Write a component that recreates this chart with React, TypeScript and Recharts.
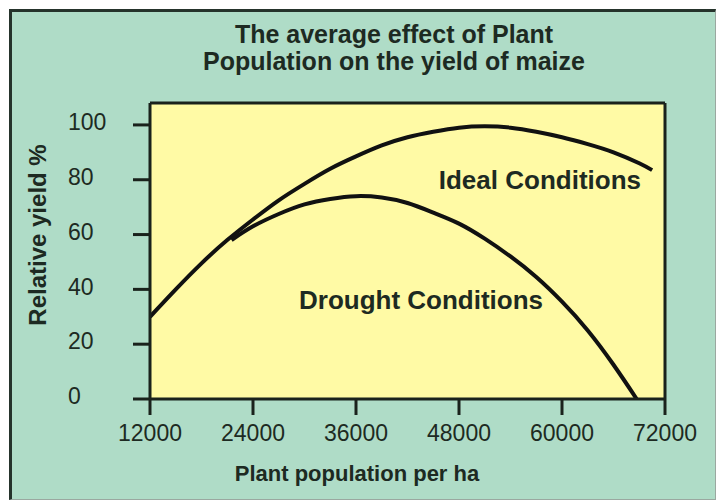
import React from "react";
import { LineChart, Line, XAxis, YAxis, ReferenceLine, CartesianGrid } from "recharts";

const xTicks = [12000, 24000, 36000, 48000, 60000, 72000];
const yTicks = [0, 20, 40, 60, 80, 100];

const idealX = [12000, 15000, 18000, 21000, 24000, 27000, 30000, 33000, 36000, 39000, 42000, 45000, 48000, 51000, 54000, 57000, 60000, 63000, 66000, 69000, 70500];
const idealY = [30, 40, 49.5, 58, 65.5, 72.5, 78.5, 84, 88.5, 92.5, 95.5, 97.5, 99, 99.5, 99, 97.5, 95.5, 93, 90, 86, 83.5];

const droughtX = [21500, 24000, 27000, 30000, 33000, 36000, 39000, 42000, 45000, 48000, 51000, 54000, 57000, 60000, 63000, 66000, 68700];
const droughtY = [58, 63, 67.5, 71, 73, 74, 73.5, 71.5, 68, 64, 58.5, 52, 44.5, 35.5, 25, 12.5, 0];

const ideal = idealX.map((x, i) => ({ x, y: idealY[i] }));
const drought = droughtX.map((x, i) => ({ x, y: droughtY[i] }));

const INK = "#1d2a22";
const FONT = "'Liberation Sans', Arial, sans-serif";

const YTick = (props: any) => {
  const { y, payload } = props;
  return (
    <text x={68} y={y - 3} dy="0.355em" textAnchor="start" fill={INK} fontSize={23} fontFamily={FONT}>
      {payload.value}
    </text>
  );
};

export default function App() {
  return (
    <div style={{ position: "relative", width: 718, height: 500 }}>
      <style>{`body{margin:0;overflow:hidden}`}</style>
      <div
        style={{
          position: "absolute",
          left: 9,
          top: 9,
          width: 703,
          height: 487,
          background: "#afdcc7",
          borderLeft: "3px solid #25332b",
          borderTop: "3px solid #25332b",
          borderRight: "1px solid #9aa8a0",
          borderBottom: "1px solid #9aa8a0",
        }}
      />
      <div style={{ position: "absolute", left: 0, top: 0 }}>
        <LineChart width={718} height={500} margin={{ top: 103, right: 53, bottom: 41, left: 0 }}>
          <CartesianGrid fill="#fffaa5" stroke="none" horizontal={false} vertical={false} />
          <XAxis
            dataKey="x"
            type="number"
            domain={[12000, 72000]}
            ticks={xTicks}
            height={60}
            allowDataOverflow
            axisLine={{ stroke: "#1a221c", strokeWidth: 3 }}
            tickLine={{ stroke: "#1a221c", strokeWidth: 3 }}
            tickSize={16}
            tickMargin={10}
            tick={{ fill: INK, fontSize: 23, fontFamily: FONT }}
          />
          <YAxis
            type="number"
            domain={[0, 108]}
            ticks={yTicks}
            width={150}
            allowDataOverflow
            axisLine={{ stroke: "#1a221c", strokeWidth: 3 }}
            tickLine={{ stroke: "#1a221c", strokeWidth: 3 }}
            tickSize={17}
            tick={<YTick />}
          />
          <ReferenceLine y={108} stroke="#1a221c" strokeWidth={3} />
          <ReferenceLine x={72000} stroke="#1a221c" strokeWidth={3} />
          <Line data={ideal} dataKey="y" type="natural" stroke="#111" strokeWidth={4} dot={false} isAnimationActive={false} />
          <Line data={drought} dataKey="y" type="natural" stroke="#111" strokeWidth={4} dot={false} isAnimationActive={false} />
        </LineChart>
      </div>
      <svg width={718} height={500} style={{ position: "absolute", left: 0, top: 0, pointerEvents: "none" }}>
        <g fontFamily={FONT} fontWeight="bold" fill={INK}>
          <text x={394} y={43} fontSize={25} textAnchor="middle">The average effect of Plant</text>
          <text x={394} y={70} fontSize={25} textAnchor="middle">Population on the yield of maize</text>
          <text x={641} y={189} fontSize={26} textAnchor="end">Ideal Conditions</text>
          <text x={299} y={309} fontSize={26} textAnchor="start">Drought Conditions</text>
          <text x={357} y={481} fontSize={22} textAnchor="middle">Plant population per ha</text>
          <text x={37} y={235} fontSize={24} textAnchor="middle" dominantBaseline="central" transform="rotate(-90 37 235)">
            Relative yield %
          </text>
        </g>
      </svg>
    </div>
  );
}
